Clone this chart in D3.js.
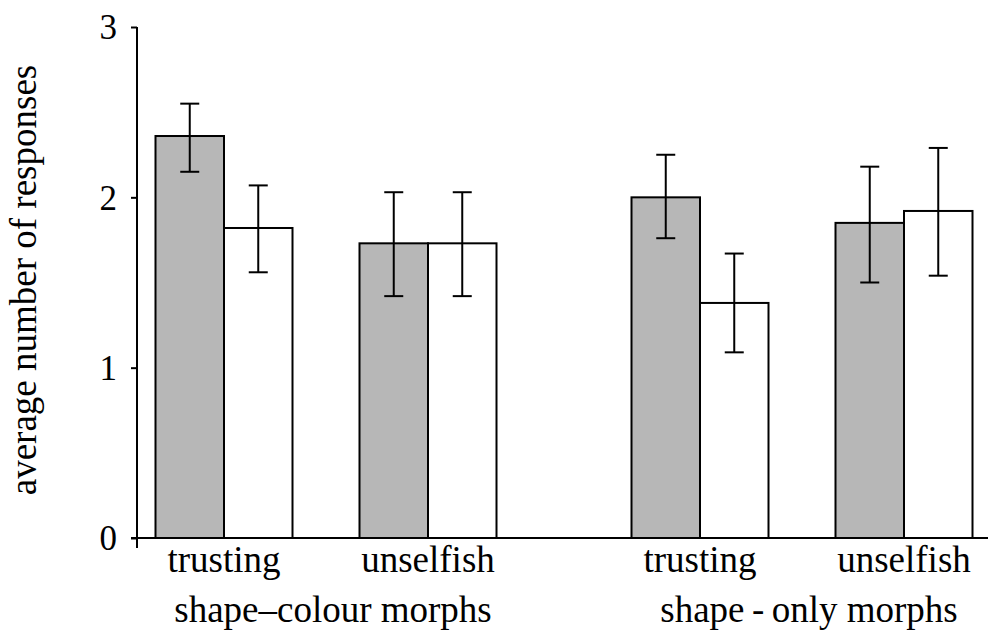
<!DOCTYPE html>
<html>
<head>
<meta charset="utf-8">
<script src="https://cdn.jsdelivr.net/npm/d3@7"></script>
<style>
  html, body { margin: 0; padding: 0; background: #fff; }
  svg { display: block; }
  text { font-family: "Liberation Serif", "Times New Roman", serif; fill: #000; }
</style>
</head>
<body>
<svg id="chart" width="988" height="634"></svg>
<script>
// Morph sets and the two trait categories within each
const groups = ["shape–colour morphs", "shape\u2009-\u2009only morphs"];
const traits = ["trusting", "unselfish"];
const seriesKeys = ["grey", "white"];

// Mean responses, ordered: group 1 trusting, group 1 unselfish, group 2 trusting, group 2 unselfish
const greyMeans = [2.36, 1.73, 2.00, 1.85];
const greyLow   = [2.15, 1.42, 1.76, 1.50];
const greyHigh  = [2.55, 2.03, 2.25, 2.18];

const whiteMeans = [1.82, 1.73, 1.38, 1.92];
const whiteLow   = [1.56, 1.42, 1.09, 1.54];
const whiteHigh  = [2.07, 2.03, 1.67, 2.29];

const yTicks = [0, 1, 2, 3];
const yTitle = "average number of responses";

const fills = { grey: "#b7b7b7", white: "#ffffff" };

// Build one row per bar
const rows = [];
groups.forEach((g, gi) => {
  traits.forEach((t, ti) => {
    const k = gi * traits.length + ti;
    rows.push({ group: g, trait: t, series: "grey",  mean: greyMeans[k],  low: greyLow[k],  high: greyHigh[k] });
    rows.push({ group: g, trait: t, series: "white", mean: whiteMeans[k], low: whiteLow[k], high: whiteHigh[k] });
  });
});

const svg = d3.select("#chart");

const axisX = 137, baseY = 538;

const y = d3.scaleLinear().domain([0, 3]).range([baseY, 27]);

// Nested band scales: group -> trait -> series
const xGroup = d3.scaleBand().domain(groups).range([88, 1040]);
const xTrait = d3.scaleBand().domain(traits).range([34, 442]);
const xSeries = d3.scaleBand().domain(seriesKeys).range([33.5, 170.5]);

const barX = d => xGroup(d.group) + xTrait(d.trait) + xSeries(d.series);
const traitCenter = (g, t) => xGroup(g) + xTrait(t) + xTrait.bandwidth() / 2;

// Bars
svg.append("g")
  .selectAll("rect")
  .data(rows)
  .join("rect")
  .attr("x", barX)
  .attr("y", d => y(d.mean))
  .attr("width", xSeries.bandwidth())
  .attr("height", d => y(0) - y(d.mean))
  .attr("fill", d => fills[d.series])
  .attr("stroke", "#000")
  .attr("stroke-width", 2);

// Error bars
const capHalf = 9.5;
const err = svg.append("g").attr("stroke", "#000").attr("stroke-width", 2);
rows.forEach(d => {
  const cx = barX(d) + xSeries.bandwidth() / 2;
  err.append("line").attr("x1", cx).attr("x2", cx).attr("y1", y(d.low)).attr("y2", y(d.high));
  err.append("line").attr("x1", cx - capHalf).attr("x2", cx + capHalf).attr("y1", y(d.high)).attr("y2", y(d.high));
  err.append("line").attr("x1", cx - capHalf).attr("x2", cx + capHalf).attr("y1", y(d.low)).attr("y2", y(d.low));
});

// X axis baseline
svg.append("line")
  .attr("x1", axisX - 6).attr("x2", 988)
  .attr("y1", baseY).attr("y2", baseY)
  .attr("stroke", "#000").attr("stroke-width", 2);

// Y axis
const yAxis = d3.axisLeft(y).tickValues(yTicks).tickFormat(d3.format("d")).tickSize(6).tickPadding(14);
const yg = svg.append("g").attr("transform", `translate(${axisX},0)`).call(yAxis);
yg.select(".domain").remove();
yg.selectAll(".tick line").attr("stroke", "#000").attr("stroke-width", 2);
yg.selectAll(".tick text").style("font-size", "35px").attr("dy", "0.34em");
yg.append("line")
  .attr("x1", 0).attr("x2", 0).attr("y1", y(3)).attr("y2", baseY + 10)
  .attr("stroke", "#000").attr("stroke-width", 2);

// Trait labels
const labels = svg.append("g").style("font-size", "37px").attr("text-anchor", "middle");
groups.forEach(g => {
  traits.forEach(t => {
    labels.append("text").attr("x", traitCenter(g, t)).attr("y", 572).text(t);
  });
  labels.append("text")
    .attr("x", xGroup(g) + xGroup.bandwidth() / 2 + 7)
    .attr("y", 622)
    .text(g);
});

// Y title
svg.append("text")
  .attr("transform", `translate(36,280) rotate(-90)`)
  .attr("text-anchor", "middle")
  .style("font-size", "37px")
  .text(yTitle);
</script>
</body>
</html>
